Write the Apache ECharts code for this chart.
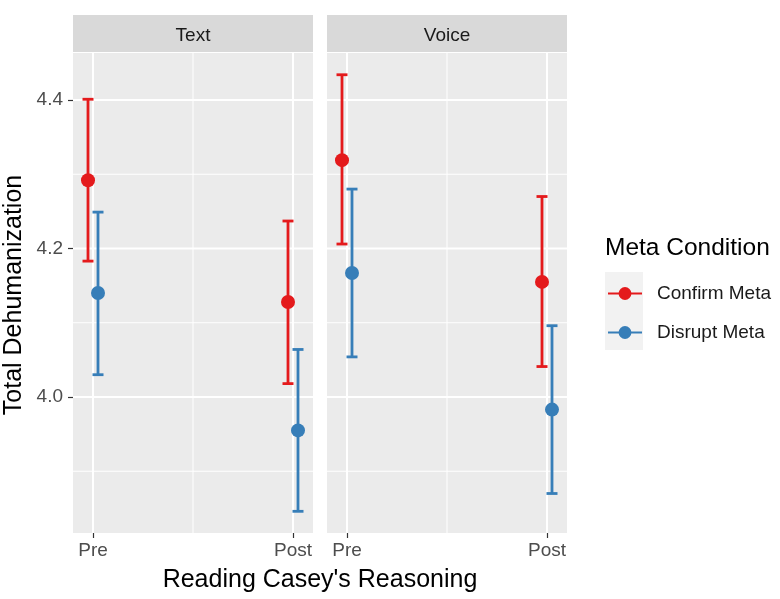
<!DOCTYPE html>
<html>
<head>
<meta charset="utf-8">
<script src="https://cdn.jsdelivr.net/npm/echarts@6/dist/echarts.min.js"></script>
<style>html,body{margin:0;padding:0;background:#fff}#c{width:780px;height:599px}</style>
</head>
<body>
<div id="c"></div>
<script>
// ---- data ----
const panels = ['Text', 'Voice'];
const times = ['Pre', 'Post'];
const groups = ['Confirm Meta', 'Disrupt Meta'];
// order: Text Pre, Text Post, Voice Pre, Voice Post
const confirmMean  = [4.292, 4.128, 4.319, 4.155];
const confirmLower = [4.183, 4.018, 4.206, 4.041];
const confirmUpper = [4.401, 4.237, 4.434, 4.270];
const disruptMean  = [4.140, 3.955, 4.167, 3.983];
const disruptLower = [4.030, 3.846, 4.054, 3.870];
const disruptUpper = [4.249, 4.064, 4.280, 4.096];
const yTicks = [4.0, 4.2, 4.4];
const yMinor = [3.9, 4.1, 4.3];
const yRange = [3.8168, 4.4633];

const FONT = 'Liberation Sans, Arial, sans-serif';
const colors = ['#E41A1C', '#377EB8'];
const dodge = [-0.025, 0.025];
const means = [confirmMean, disruptMean];
const lowers = [confirmLower, disruptLower];
const uppers = [confirmUpper, disruptUpper];

const chart = echarts.init(document.getElementById('c'), null, {renderer: 'canvas'});

const grids = [
  {left: 73, top: 53, width: 240, height: 480},
  {left: 327, top: 53, width: 240, height: 480}
].map(g => Object.assign(g, {show: true, backgroundColor: '#EBEBEB', borderWidth: 0}));

const xAxes = panels.map((p, i) => ({
  type: 'value', gridIndex: i, min: 0.9, max: 2.1,
  axisLine: {show: false}, splitLine: {show: false},
  axisTick: {show: true, customValues: [1, 2], length: 5, lineStyle: {color: '#333', width: 1.2}},
  axisLabel: {customValues: [1, 2], formatter: v => times[Math.round(v) - 1], color: '#4D4D4D',
    fontSize: 19, fontFamily: FONT, margin: 8}
}));
const yAxes = panels.map((p, i) => ({
  type: 'value', gridIndex: i, min: yRange[0], max: yRange[1],
  axisLine: {show: false}, splitLine: {show: false},
  axisTick: {show: i === 0, customValues: yTicks, length: 5, lineStyle: {color: '#333', width: 1.2}},
  axisLabel: {show: i === 0, customValues: yTicks, formatter: v => v.toFixed(1), color: '#4D4D4D',
    fontSize: 19, fontFamily: FONT, margin: 10}
}));

const series = [];
// legend dummy series (line + point icon)
groups.forEach((g, k) => series.push({
  type: 'line', name: g, data: [], symbol: 'circle', xAxisIndex: 0, yAxisIndex: 0,
  itemStyle: {color: colors[k]}, lineStyle: {color: colors[k], width: 3}
}));

panels.forEach((p, pi) => {
  // grid lines
  const gl = [];
  yTicks.forEach(v => gl.push([0, v]));
  yMinor.forEach(v => gl.push([1, v]));
  [1, 2].forEach(v => gl.push([2, v]));
  gl.push([3, 1.5]);
  series.push({
    type: 'custom', name: 'grid' + pi, xAxisIndex: pi, yAxisIndex: pi, z: 1, silent: true,
    data: gl,
    renderItem: (params, api) => {
      const cs = params.coordSys;
      const kind = api.value(0), v = api.value(1);
      if (kind < 2) {
        const y = api.coord([1.5, v])[1];
        return {type: 'line', shape: {x1: cs.x, y1: y, x2: cs.x + cs.width, y2: y},
          style: {stroke: '#FFFFFF', lineWidth: kind === 0 ? 2 : 1}};
      }
      const x = api.coord([v, 4.1])[0];
      return {type: 'line', shape: {x1: x, y1: cs.y, x2: x, y2: cs.y + cs.height},
        style: {stroke: '#FFFFFF', lineWidth: kind === 2 ? 2 : 1}};
    }
  });
  groups.forEach((g, k) => {
    const eb = [], pts = [];
    times.forEach((t, ti) => {
      const idx = pi * 2 + ti;
      const x = ti + 1 + dodge[k];
      eb.push([x, lowers[k][idx], uppers[k][idx]]);
      pts.push([x, means[k][idx]]);
    });
    series.push({
      type: 'custom', name: g + ' ' + p + ' err', xAxisIndex: pi, yAxisIndex: pi, z: 2 + k * 2,
      data: eb, encode: {x: 0, y: [1, 2]},
      renderItem: (params, api) => {
        const lo = api.coord([api.value(0), api.value(1)]);
        const hi = api.coord([api.value(0), api.value(2)]);
        const c = colors[k];
        const st = {stroke: c, lineWidth: 2.8};
        return {type: 'group', children: [
          {type: 'line', shape: {x1: lo[0], y1: lo[1], x2: hi[0], y2: hi[1]}, style: st},
          {type: 'line', shape: {x1: lo[0] - 5.5, y1: lo[1], x2: lo[0] + 5.5, y2: lo[1]}, style: st},
          {type: 'line', shape: {x1: hi[0] - 5.5, y1: hi[1], x2: hi[0] + 5.5, y2: hi[1]}, style: st}
        ]};
      }
    });
    series.push({
      type: 'scatter', name: g + ' ' + p, xAxisIndex: pi, yAxisIndex: pi, z: 3 + k * 2,
      data: pts, symbol: 'circle', symbolSize: 14, itemStyle: {color: colors[k], opacity: 1},
      emphasis: {disabled: true}
    });
  });
});

const graphic = [];
panels.forEach((p, pi) => {
  const g = grids[pi];
  graphic.push({type: 'rect', left: g.left, top: 15, shape: {width: g.width, height: 37},
    style: {fill: '#D9D9D9'}, z: 0, silent: true});
  graphic.push({type: 'text', x: g.left + g.width / 2, y: 36,
    style: {text: p, fill: '#1A1A1A', font: '19px ' + FONT, textAlign: 'center', textVerticalAlign: 'middle'}, z: 1});
});
graphic.push({type: 'text', x: 14, y: 295, rotation: Math.PI / 2,
  style: {text: 'Total Dehumanization', fill: '#000', font: '25px ' + FONT, textAlign: 'center', textVerticalAlign: 'middle'}});
graphic.push({type: 'text', x: 320, y: 580,
  style: {text: "Reading Casey's Reasoning", fill: '#000', font: '25px ' + FONT, textAlign: 'center', textVerticalAlign: 'middle'}});
graphic.push({type: 'text', x: 605, y: 248,
  style: {text: 'Meta Condition', fill: '#000', font: '24.5px ' + FONT, textAlign: 'left', textVerticalAlign: 'middle'}});
graphic.push({type: 'rect', x: 605, y: 272, shape: {width: 38, height: 78}, style: {fill: '#F2F2F2'}, z: 0, silent: true});

chart.setOption({
  animation: false,
  backgroundColor: '#FFFFFF',
  grid: grids, xAxis: xAxes, yAxis: yAxes, series: series, graphic: graphic,
  legend: {
    data: groups, orient: 'vertical', left: 607, top: 284, itemWidth: 34, itemHeight: 16, itemGap: 20,
    padding: 0, selectedMode: false,
    textStyle: {color: '#1A1A1A', fontSize: 19, fontFamily: FONT, padding: [0, 0, 0, 10]}
  }
});
</script>
</body>
</html>
